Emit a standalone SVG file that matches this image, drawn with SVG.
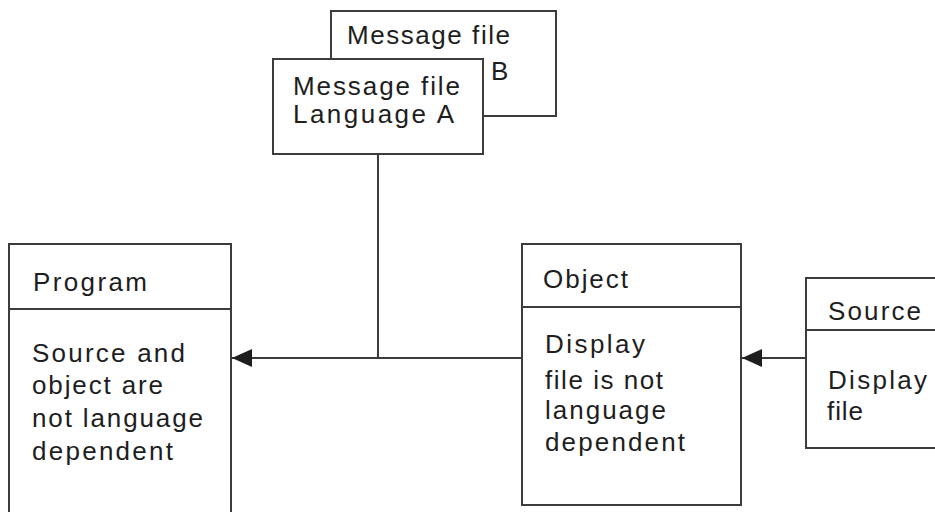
<svg xmlns="http://www.w3.org/2000/svg" width="935" height="512" viewBox="0 0 935 512">
<style>
.box{fill:#fff;stroke:#3c3c3c;stroke-width:2}
.ln{stroke:#3c3c3c;stroke-width:2;fill:none}
.t{font-family:"Liberation Sans",Arial,sans-serif;font-size:26px;fill:#1e1e1e}
</style>
<defs>
<marker id="ah" viewBox="0 0 20 20" refX="0" refY="10" markerWidth="20" markerHeight="20" markerUnits="userSpaceOnUse" orient="auto">
<path d="M0,10 L20,1 L20,19 Z" fill="#1e1e1e"/>
</marker>
</defs>
<rect width="935" height="512" fill="#fff"/>
<g id="msgB">
<rect class="box" x="331" y="11" width="225" height="105"/>
<text class="t" x="347" y="44" textLength="163" lengthAdjust="spacing">Message file</text>
<text class="t" x="491" y="80" textLength="16" lengthAdjust="spacing">B</text>
</g>
<g id="msgA">
<rect class="box" x="273" y="59" width="210" height="95"/>
<text class="t" x="293" y="95" textLength="167" lengthAdjust="spacing">Message file</text>
<text class="t" x="293" y="123" textLength="161" lengthAdjust="spacing">Language A</text>
</g>
<g id="program">
<rect class="box" x="9" y="244" width="222" height="280"/>
<line class="ln" x1="9" y1="309" x2="231" y2="309"/>
<text class="t" x="33" y="291" textLength="114" lengthAdjust="spacing">Program</text>
<text class="t" x="32" y="362" textLength="153" lengthAdjust="spacing">Source and</text>
<text class="t" x="32" y="394" textLength="131" lengthAdjust="spacing">object are</text>
<text class="t" x="32" y="427" textLength="171" lengthAdjust="spacing">not language</text>
<text class="t" x="32" y="460" textLength="141" lengthAdjust="spacing">dependent</text>
</g>
<g id="object">
<rect class="box" x="522" y="244" width="219" height="261"/>
<line class="ln" x1="522" y1="307" x2="741" y2="307"/>
<text class="t" x="543" y="288" textLength="85" lengthAdjust="spacing">Object</text>
<text class="t" x="545" y="353" textLength="100" lengthAdjust="spacing">Display</text>
<text class="t" x="545" y="389" textLength="118" lengthAdjust="spacing">file is not</text>
<text class="t" x="545" y="419" textLength="121" lengthAdjust="spacing">language</text>
<text class="t" x="545" y="451" textLength="140" lengthAdjust="spacing">dependent</text>
</g>
<g id="source">
<rect class="box" x="806" y="278" width="140" height="170"/>
<line class="ln" x1="806" y1="330" x2="935" y2="330"/>
<text class="t" x="828" y="320" textLength="93" lengthAdjust="spacing">Source</text>
<text class="t" x="828" y="389" textLength="99" lengthAdjust="spacing">Display</text>
<text class="t" x="827" y="420" textLength="36" lengthAdjust="spacing">file</text>
</g>
<g id="connectors">
<line class="ln" x1="378" y1="155" x2="378" y2="358"/>
<line class="ln" x1="232" y1="358" x2="521" y2="358" marker-start="url(#ah)"/>
<line class="ln" x1="742" y1="358" x2="805" y2="358" marker-start="url(#ah)"/>
</g>
</svg>
